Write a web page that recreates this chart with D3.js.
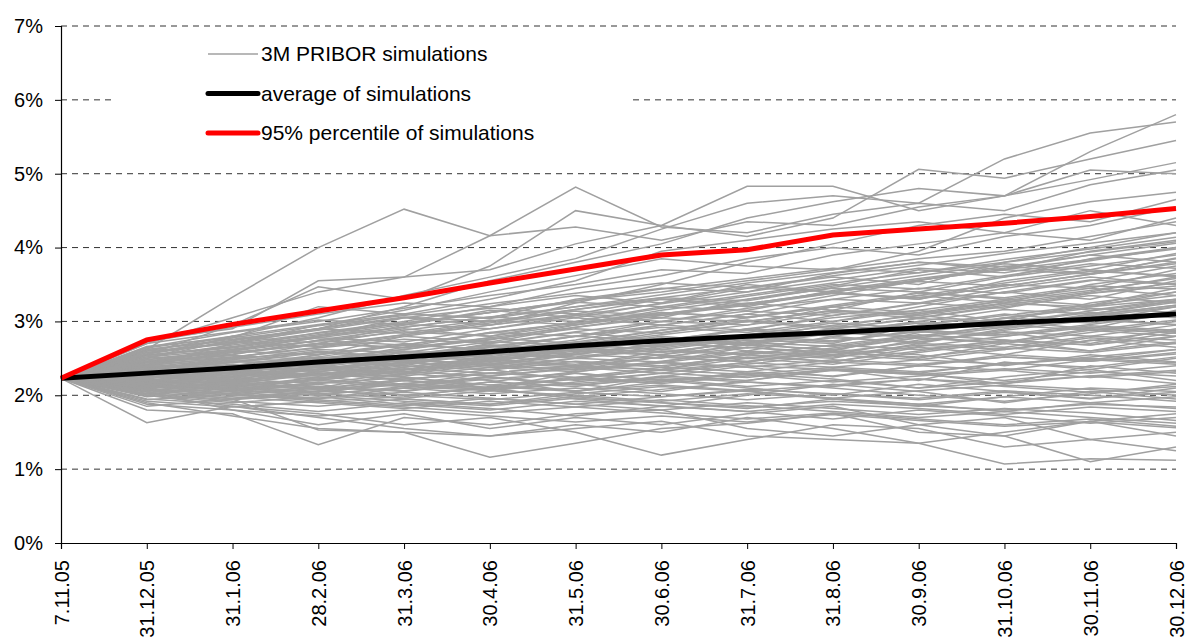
<!DOCTYPE html>
<html>
<head>
<meta charset="utf-8">
<script src="https://cdn.jsdelivr.net/npm/d3@7"></script>
<style>
  body { margin: 0; background: #fff; }
  svg { display: block; font-family: "Liberation Sans", Arial, sans-serif; }
</style>
</head>
<body>
<div id="chart"></div>
<script>
// categories (x axis)
var dates = ["7.11.05","31.12.05","31.1.06","28.2.06","31.3.06","30.4.06","31.5.06",
             "30.6.06","31.7.06","31.8.06","30.9.06","31.10.06","30.11.06","30.12.06"];

var yTicks = [0,1,2,3,4,5,6,7];

// starting value shared by every simulation
var startRate = 2.23;

// average and 95% percentile of simulations
var average = [2.23,2.30,2.37,2.45,2.52,2.59,2.67,2.74,2.80,2.85,2.91,2.98,3.03,3.10];
var percentile95 = [2.23,2.75,2.96,3.14,3.32,3.52,3.71,3.90,3.97,4.17,4.25,4.33,4.42,4.53];

// simulated paths (values after the start date)
var simulations = [
  [2.62,3.33,4.00,4.52,4.16,4.28,4.10,4.35,4.30,4.55,4.70,4.92,5.15],
  [2.70,3.05,3.40,3.60,4.16,4.82,4.28,4.20,4.45,4.60,4.50,4.85,5.05],
  [2.75,2.90,3.55,3.60,3.70,4.05,4.30,4.83,4.83,4.50,4.70,5.30,5.80],
  [2.55,2.95,3.47,3.30,3.75,4.50,4.30,4.15,4.40,5.06,4.94,5.20,5.45],
  [2.50,2.80,3.05,3.35,3.60,3.85,4.25,4.60,4.70,4.60,5.20,5.55,5.70],
  [2.40,2.70,2.90,3.20,3.55,3.80,4.05,4.40,4.62,4.80,4.70,5.05,5.00],
  [1.63,1.85,1.70,1.55,1.45,1.60,1.50,1.70,1.55,1.35,1.07,1.14,1.12],
  [1.80,1.75,1.33,1.70,1.60,1.75,1.80,1.55,1.45,1.60,1.70,1.40,1.50],
  [1.90,1.72,1.55,1.50,1.16,1.35,1.55,1.62,1.75,1.50,1.45,1.65,1.75],
  [2.00,1.85,1.75,1.60,1.70,1.50,1.19,1.40,1.60,1.55,1.30,1.40,1.25],
  [1.85,1.95,1.53,1.50,1.45,1.55,1.65,1.45,1.40,1.35,1.50,1.65,1.45],
  [2.05,1.80,1.60,1.75,1.55,1.70,1.60,1.75,1.85,1.60,1.45,1.10,1.30],
  [2.45,2.60,2.55,2.80,2.95,3.10,3.05,3.30,3.45,3.40,3.60,3.75,3.90],
  [2.20,2.10,2.25,2.15,2.30,2.40,2.35,2.55,2.50,2.70,2.65,2.80,2.75],
  [2.35,2.50,2.70,2.65,2.85,2.80,3.00,2.95,3.20,3.35,3.25,3.50,3.65],
  [2.15,2.25,2.10,2.30,2.20,2.05,2.25,2.40,2.35,2.20,2.45,2.35,2.50],
  [2.50,2.75,2.90,3.10,3.05,3.30,3.45,3.40,3.65,3.80,3.70,3.95,4.10],
  [2.28,2.20,2.40,2.55,2.45,2.65,2.80,2.70,2.60,2.85,3.00,2.90,3.15],
  [2.10,2.00,1.95,2.10,2.25,2.15,2.05,2.20,2.35,2.30,2.15,2.40,2.30],
  [2.40,2.35,2.55,2.70,2.60,2.75,2.95,3.10,3.00,3.20,3.40,3.30,3.55],
  [2.25,2.40,2.35,2.50,2.70,2.85,2.75,2.60,2.80,2.70,2.90,3.05,2.95],
  [2.00,2.15,2.30,2.20,2.35,2.50,2.45,2.65,2.55,2.75,2.85,2.70,2.90],
  [2.60,2.80,2.70,2.95,3.15,3.05,3.25,3.50,3.40,3.30,3.55,3.70,3.60],
  [2.30,2.45,2.60,2.50,2.40,2.55,2.70,2.90,3.05,3.15,3.00,3.25,3.40],
  [2.18,2.05,2.15,2.00,2.10,2.30,2.20,2.10,2.00,2.15,2.05,1.95,2.10],
  [2.45,2.55,2.75,2.90,2.80,3.00,3.20,3.15,3.35,3.55,3.75,3.65,3.85],
  [2.35,2.30,2.45,2.40,2.60,2.55,2.50,2.70,2.90,2.85,3.05,3.20,3.30],
  [2.22,2.35,2.20,2.35,2.50,2.40,2.60,2.55,2.45,2.65,2.55,2.75,2.65],
  [2.55,2.65,2.85,3.00,3.20,3.35,3.25,3.45,3.60,3.50,3.80,4.00,4.20],
  [2.12,2.25,2.35,2.45,2.35,2.20,2.30,2.45,2.60,2.50,2.70,2.60,2.80],
  [2.38,2.50,2.45,2.65,2.75,2.95,3.10,3.25,3.15,3.40,3.30,3.45,3.35],
  [2.08,1.95,2.05,2.20,2.10,1.95,1.85,2.00,2.15,2.05,1.90,2.05,1.95],
  [2.32,2.42,2.38,2.30,2.48,2.62,2.55,2.75,2.70,2.95,3.10,3.00,3.20],
  [2.48,2.62,2.78,2.72,2.90,3.05,2.95,3.10,3.30,3.25,3.45,3.60,3.50],
  [2.20,2.30,2.28,2.42,2.58,2.72,2.88,3.02,2.92,3.10,3.25,3.40,3.60],
  [2.26,2.18,2.32,2.48,2.40,2.35,2.52,2.45,2.62,2.55,2.40,2.55,2.45],
  [2.42,2.58,2.70,2.88,3.02,2.95,3.15,3.30,3.48,3.70,3.60,3.85,4.00],
  [2.15,2.08,2.22,2.38,2.52,2.45,2.38,2.55,2.68,2.82,2.75,2.60,2.72],
  [2.36,2.48,2.62,2.58,2.72,2.68,2.85,3.00,2.90,3.05,3.20,3.35,3.25],
  [2.05,2.20,2.12,2.05,2.18,2.32,2.45,2.38,2.25,2.40,2.55,2.48,2.62],
  [2.52,2.68,2.82,2.98,3.12,3.28,3.40,3.55,3.70,3.85,3.95,4.15,4.35],
  [2.28,2.40,2.52,2.45,2.65,2.80,2.92,2.85,3.00,3.15,3.30,3.22,3.45],
  [2.12,2.02,1.92,1.98,2.12,2.05,2.18,2.30,2.22,2.10,2.25,2.35,2.20],
  [2.44,2.52,2.65,2.80,2.72,2.92,3.08,3.22,3.38,3.30,3.50,3.45,3.70],
  [2.24,2.38,2.50,2.62,2.78,2.70,2.88,3.05,3.20,3.12,3.28,3.15,3.30],
  [2.02,1.92,1.85,1.95,1.88,2.02,2.12,2.05,1.95,1.85,1.98,2.10,2.05],
  [2.58,2.72,2.88,3.05,3.18,3.10,3.30,3.20,3.42,3.58,3.72,3.90,3.80],
  [2.30,2.22,2.35,2.28,2.42,2.58,2.68,2.78,2.95,3.08,2.98,3.12,3.05],
  [2.18,2.32,2.45,2.58,2.50,2.65,2.58,2.72,2.85,2.78,2.92,3.08,3.22],
  [2.46,2.40,2.52,2.68,2.85,2.98,3.12,3.05,3.20,3.35,3.52,3.68,3.62],
  [2.10,2.18,2.30,2.25,2.10,2.22,2.35,2.50,2.42,2.58,2.72,2.88,2.80],
  [2.34,2.46,2.40,2.55,2.68,2.62,2.78,2.70,2.85,3.00,2.92,3.10,3.28],
  [1.95,1.88,1.78,1.90,1.82,1.72,1.85,1.78,1.68,1.80,1.72,1.62,1.70],
  [2.08,2.00,2.10,1.95,1.88,1.98,1.90,1.82,1.95,1.88,1.78,1.90,1.82],
  [2.20,2.12,2.05,2.15,2.08,1.98,2.08,2.18,2.10,2.00,1.92,2.02,2.15],
  [2.65,2.85,3.00,3.18,3.35,3.50,3.70,3.65,3.90,4.05,4.20,4.10,4.40],
  [2.72,2.92,3.10,3.25,3.20,3.45,3.62,3.85,4.00,3.90,4.15,4.30,4.55],
  [2.60,2.70,2.95,3.15,3.40,3.62,3.85,3.75,3.70,3.95,4.40,4.62,4.75],
  [2.56,2.78,3.20,3.10,3.30,3.55,3.95,4.10,4.25,4.35,4.20,4.50,4.30],
  [2.40,2.60,2.80,3.05,2.95,3.25,3.50,3.80,4.05,4.30,4.45,4.35,4.65],
  [2.38,2.30,2.42,2.55,2.48,2.62,2.75,2.88,2.80,2.95,3.08,3.22,3.35],
  [2.16,2.28,2.40,2.35,2.48,2.42,2.55,2.68,2.62,2.78,2.70,2.85,3.00],
  [2.50,2.58,2.68,2.82,2.95,3.08,3.00,3.18,3.30,3.45,3.38,3.55,3.75],
  [2.06,2.14,2.08,2.22,2.30,2.24,2.38,2.32,2.45,2.40,2.52,2.46,2.58],
  [2.42,2.36,2.50,2.45,2.58,2.72,2.66,2.82,2.98,2.90,3.05,2.98,3.12],
  [2.26,2.40,2.55,2.68,2.62,2.80,2.95,2.88,3.08,3.25,3.18,3.38,3.52],
  [2.14,2.06,2.18,2.12,2.26,2.38,2.30,2.42,2.55,2.48,2.62,2.78,2.70],
  [2.34,2.48,2.42,2.58,2.52,2.68,2.82,2.95,3.12,3.05,3.22,3.38,3.48],
  [2.22,2.16,2.28,2.40,2.34,2.46,2.40,2.52,2.46,2.60,2.75,2.68,2.85],
  [2.46,2.56,2.70,2.64,2.78,2.92,3.05,3.00,3.15,3.10,3.28,3.42,3.58],
  [2.10,2.22,2.16,2.30,2.44,2.38,2.52,2.65,2.58,2.72,2.86,2.80,2.95],
  [2.30,2.26,2.38,2.52,2.66,2.60,2.74,2.68,2.84,2.98,2.92,3.06,3.20],
  [2.54,2.66,2.80,2.92,3.06,3.20,3.32,3.28,3.46,3.62,3.78,3.70,3.92],
  [2.02,2.10,2.04,2.16,2.10,2.24,2.18,2.32,2.26,2.40,2.34,2.48,2.42],
  [2.36,2.44,2.58,2.52,2.66,2.80,2.74,2.90,2.84,3.00,3.16,3.10,3.26],
  [2.20,2.34,2.28,2.44,2.58,2.52,2.66,2.80,2.94,2.88,3.04,3.18,3.12],
  [2.40,2.52,2.64,2.76,2.70,2.86,3.00,3.14,3.08,3.24,3.40,3.56,3.50],
  [2.12,2.08,2.00,2.12,2.06,2.18,2.30,2.24,2.36,2.30,2.44,2.38,2.52],
  [2.28,2.36,2.48,2.42,2.56,2.50,2.64,2.78,2.72,2.88,2.82,2.96,3.10],
  [2.44,2.54,2.48,2.62,2.76,2.90,2.84,3.00,3.14,3.08,3.24,3.20,3.40],
  [2.18,2.26,2.38,2.32,2.46,2.60,2.54,2.50,2.64,2.78,2.72,2.90,2.84],
  [2.32,2.40,2.34,2.48,2.42,2.56,2.70,2.64,2.78,2.72,2.88,3.02,2.96],
  [2.48,2.60,2.74,2.86,2.80,2.96,3.10,3.24,3.38,3.32,3.48,3.64,3.80],
  [2.08,2.02,2.12,2.06,2.18,2.12,2.26,2.20,2.34,2.28,2.20,2.32,2.26],
  [2.24,2.32,2.26,2.38,2.50,2.64,2.58,2.72,2.66,2.80,2.95,2.88,3.02],
  [2.40,2.34,2.46,2.60,2.54,2.68,2.62,2.76,2.90,3.04,2.98,3.14,3.28],
  [2.16,2.24,2.36,2.48,2.42,2.34,2.46,2.60,2.54,2.68,2.62,2.74,2.88],
  [2.52,2.62,2.74,2.68,2.84,2.98,3.12,3.06,3.22,3.38,3.32,3.48,3.44],
  [2.26,2.20,2.32,2.26,2.38,2.32,2.44,2.58,2.52,2.66,2.80,2.94,2.88],
  [2.36,2.46,2.40,2.54,2.68,2.62,2.76,2.70,2.86,2.80,2.94,3.08,3.22],
  [2.04,1.96,2.06,2.00,1.94,2.04,1.98,2.08,2.02,1.96,2.06,2.00,1.92],
  [2.14,2.10,2.02,1.96,2.06,2.00,1.92,2.02,1.96,2.06,2.14,2.08,2.00],
  [1.98,2.06,2.00,1.92,1.86,1.96,1.90,1.84,1.92,1.86,1.80,1.88,1.84],
  [2.18,2.12,2.20,2.14,2.08,2.16,2.24,2.18,2.12,2.22,2.16,2.26,2.34],
  [2.10,2.16,2.10,2.20,2.14,2.22,2.16,2.26,2.34,2.28,2.36,2.30,2.40],
  [2.58,2.70,2.84,2.98,3.12,3.26,3.20,3.36,3.52,3.66,3.80,3.94,4.08],
  [2.62,2.76,2.90,2.84,3.00,3.16,3.32,3.46,3.40,3.56,3.70,3.84,3.98],
  [2.46,2.62,2.78,2.92,3.06,3.00,3.18,3.34,3.50,3.44,3.62,3.78,3.72],
  [2.54,2.64,2.80,2.96,2.90,3.08,3.24,3.40,3.56,3.72,3.66,3.82,4.00],
  [2.66,2.78,2.94,3.08,3.24,3.38,3.52,3.46,3.62,3.76,3.92,4.06,4.20],
  [2.00,1.90,1.98,1.88,1.80,1.92,1.86,1.78,1.88,1.82,1.74,1.84,1.78],
  [2.12,2.04,1.96,2.04,1.96,1.88,1.98,2.06,1.96,1.88,1.98,1.90,1.98],
  [1.94,2.02,1.94,1.86,1.96,1.88,1.80,1.90,1.82,1.74,1.82,1.76,1.66],
  [2.16,2.08,2.16,2.24,2.14,2.06,2.14,2.06,2.14,2.22,2.12,2.04,2.12],
  [2.06,1.98,1.90,1.82,1.92,1.84,1.94,1.86,1.78,1.70,1.78,1.70,1.62],
  [2.22,2.14,2.22,2.12,2.22,2.30,2.20,2.28,2.18,2.26,2.34,2.24,2.32],
  [1.92,1.84,1.92,1.84,1.76,1.84,1.76,1.68,1.76,1.68,1.60,1.68,1.58],
  [2.10,2.18,2.08,2.16,2.24,2.14,2.22,2.12,2.20,2.10,2.18,2.26,2.16],
  [2.02,1.94,2.02,2.10,2.02,2.10,2.02,1.94,2.02,1.94,2.04,1.96,2.04],
  [2.24,2.30,2.24,2.32,2.26,2.36,2.44,2.38,2.48,2.42,2.52,2.46,2.56],
  [1.88,1.80,1.72,1.80,1.72,1.64,1.72,1.64,1.74,1.66,1.58,1.64,1.56],
  [2.14,2.20,2.28,2.22,2.30,2.24,2.34,2.28,2.38,2.32,2.42,2.50,2.44],
  [2.64,2.80,2.96,3.10,3.04,3.20,3.36,3.52,3.66,3.80,3.74,3.90,4.06],
  [2.70,2.86,3.02,2.96,3.12,3.28,3.44,3.58,3.72,3.66,3.84,3.98,4.14],
  [2.56,2.72,2.66,2.82,2.98,3.14,3.08,3.24,3.40,3.56,3.70,3.64,3.86],
  [2.62,2.74,2.90,3.06,3.00,3.16,3.30,3.24,3.40,3.54,3.48,3.64,3.78],
  [2.30,2.38,2.32,2.44,2.38,2.50,2.62,2.56,2.68,2.62,2.74,2.68,2.80],
  [2.20,2.28,2.22,2.34,2.46,2.40,2.52,2.46,2.58,2.52,2.64,2.58,2.70],
  [2.42,2.50,2.58,2.52,2.62,2.56,2.68,2.80,2.74,2.86,2.80,2.92,2.86],
  [2.26,2.34,2.28,2.36,2.30,2.40,2.34,2.44,2.38,2.48,2.42,2.52,2.62]
];

var legendLabels = ["3M PRIBOR simulations", "average of simulations", "95% percentile of simulations"];

var width = 1186, height = 641;
var margin = {top: 26, right: 10, bottom: 98, left: 61};

var svg = d3.select("#chart").append("svg")
  .attr("width", width)
  .attr("height", height);

var x = d3.scalePoint()
  .domain(dates)
  .range([margin.left, width - margin.right]);

var y = d3.scaleLinear()
  .domain([0, 7])
  .range([height - margin.bottom, margin.top]);

// dashed gridlines
svg.append("g")
  .selectAll("line")
  .data(yTicks.filter(function(d) { return d > 0; }))
  .enter().append("line")
  .attr("x1", margin.left)
  .attr("x2", width - margin.right)
  .attr("y1", function(d) { return y(d); })
  .attr("y2", function(d) { return y(d); })
  .attr("stroke", "#333")
  .attr("stroke-width", 1)
  .attr("stroke-dasharray", "6,5");

// legend background hides gridlines behind it
svg.append("rect")
  .attr("x", 115)
  .attr("y", 36)
  .attr("width", 515)
  .attr("height", 128)
  .attr("fill", "#fff");

var line = d3.line()
  .x(function(d, i) { return x(dates[i]); })
  .y(function(d) { return y(d); });

svg.append("g")
  .selectAll("path")
  .data(simulations.map(function(s) { return [startRate].concat(s); }))
  .enter().append("path")
  .attr("d", line)
  .attr("fill", "none")
  .attr("stroke", "#a0a0a0")
  .attr("stroke-width", 1.5);

svg.append("path")
  .attr("d", line(average))
  .attr("fill", "none")
  .attr("stroke", "#000")
  .attr("stroke-width", 5);

svg.append("path")
  .attr("d", line(percentile95))
  .attr("fill", "none")
  .attr("stroke", "#ff0000")
  .attr("stroke-width", 5);

// axes
var yAxis = svg.append("g")
  .attr("transform", "translate(" + margin.left + ",0)")
  .call(d3.axisLeft(y).tickValues(yTicks).tickSize(6).tickPadding(12)
    .tickFormat(function(d) { return d + "%"; }));

var xAxis = svg.append("g")
  .attr("transform", "translate(0," + y(0) + ")")
  .call(d3.axisBottom(x).tickSize(6).tickPadding(0));

[yAxis, xAxis].forEach(function(a) {
  a.select(".domain").attr("stroke", "#000").attr("stroke-width", 1.2);
  a.selectAll(".tick line").attr("stroke", "#000");
  a.selectAll("text").attr("fill", "#000").style("font-size", "20px")
    .style("font-family", "'Liberation Sans', Arial, sans-serif");
});

xAxis.selectAll("text")
  .attr("transform", "rotate(-90)")
  .attr("text-anchor", "end")
  .attr("x", -17)
  .attr("y", 0)
  .attr("dy", "0.35em");

// legend
var legend = svg.append("g");
var legendStyles = [
  {color: "#a0a0a0", w: 1.5},
  {color: "#000", w: 5},
  {color: "#ff0000", w: 5}
];
legendLabels.forEach(function(label, i) {
  var ly = 54 + i * 39.5;
  legend.append("line")
    .attr("x1", 208).attr("x2", 258)
    .attr("y1", ly).attr("y2", ly)
    .attr("stroke", legendStyles[i].color)
    .attr("stroke-width", legendStyles[i].w)
    .attr("stroke-linecap", i === 0 ? "butt" : "round");
  legend.append("text")
    .attr("x", 261)
    .attr("y", ly)
    .attr("dy", "0.35em")
    .style("font-size", "21px")
    .attr("fill", "#000")
    .text(label);
});
</script>
</body>
</html>
